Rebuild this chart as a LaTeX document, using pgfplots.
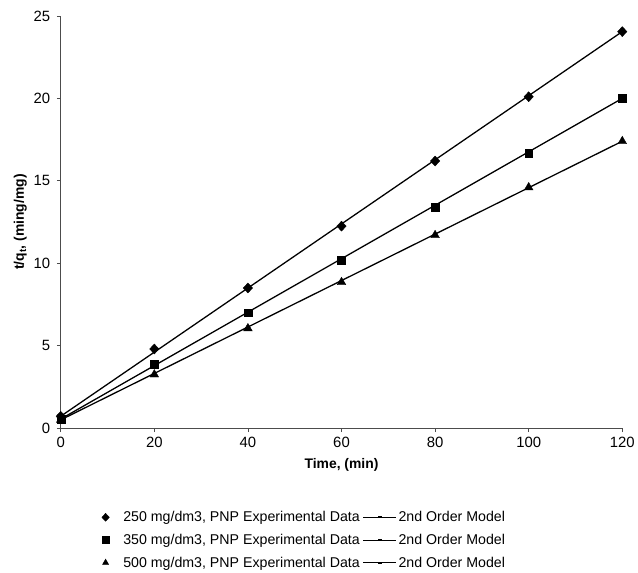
\documentclass[border=0pt]{standalone}
\usepackage{fontspec}
\setmainfont{Liberation Sans}
\usepackage{pgfplots}
\pgfplotsset{compat=1.18}
\pgfplotsset{modelleg/.style={legend image code/.code={%
  \draw[black, line width=1pt] (0bp,0bp) -- (33bp,0bp);
  \draw[black, line width=2pt] (15bp,0bp) -- (19bp,0bp);}},
  dataleg/.style={legend image post style={mark size=3.6bp}}}

\begin{document}
\begin{tikzpicture}[x=1bp,y=1bp]
\begin{axis}[
  scale only axis,
  width=564bp, height=414bp,
  xmin=0, xmax=120, ymin=0, ymax=25,
  xtick={0,20,...,120}, ytick={0,5,...,25},
  axis lines=left,
  axis line style={-, black!70, line width=0.8pt},
  tick style={black!70, line width=0.8pt},
  tick align=outside, major tick length=4bp,
  /pgf/number format/assume math mode=true,
  ticklabel style={font=\fontsize{15}{17}\selectfont},
  xticklabel style={yshift=-2bp},
  yticklabel style={xshift=-3bp},
  xlabel={\textbf{Time, (min)}},
  ylabel={\textbf{t/q\textsubscript{t}, (ming/mg)}},
  label style={font=\fontsize{14}{16}\selectfont},
  xlabel style={yshift=-3bp},
  legend columns=2,
  legend style={draw=none, at={(0.434,-0.192)}, anchor=north,
    font=\fontsize{14.3}{16}\selectfont, row sep=7bp,
    /tikz/every odd column/.append style={column sep=0bp},
    /tikz/every even column/.append style={column sep=1bp},
    legend cell align=left},
]
% 250 mg/dm3
\addplot[only marks, mark=diamond*, mark size=5bp, mark options={xscale=1.25}, black,
  legend image post style={mark size=4bp}] coordinates {
  (0,0.72) (20,4.8) (40,8.5) (60,12.25) (80,16.2) (100,20.1) (120,24.05)};
\addlegendentry{\hspace{12bp}250 mg/dm3, PNP Experimental Data}
\addplot[black, line width=1.3pt, no marks, modelleg]
  coordinates {(0,0.72) (120,24.05)};
\addlegendentry{2nd Order Model}
% 350 mg/dm3
\addplot[only marks, mark=square*, mark size=4bp, black, dataleg] coordinates {
  (0,0.55) (20,3.85) (40,7.0) (60,10.2) (80,13.4) (100,16.65) (120,20.0)};
\addlegendentry{\hspace{12bp}350 mg/dm3, PNP Experimental Data}
\addplot[black, line width=1.3pt, no marks, modelleg]
  coordinates {(0,0.55) (120,20.0)};
\addlegendentry{2nd Order Model}
% 500 mg/dm3
\addplot[only marks, mark=triangle*, mark size=5bp, black, dataleg] coordinates {
  (0,0.5) (20,3.25) (40,6.05) (60,8.85) (80,11.7) (100,14.6) (120,17.4)};
\addlegendentry{\hspace{12bp}500 mg/dm3, PNP Experimental Data}
\addplot[black, line width=1.3pt, no marks, modelleg]
  coordinates {(0,0.5) (120,17.4)};
\addlegendentry{2nd Order Model}
\coordinate (tl) at (rel axis cs:0,1);
\coordinate (br) at (rel axis cs:1,0);
\end{axis}
\path ([xshift=-61bp,yshift=16bp]tl) rectangle ([xshift=13bp,yshift=-141bp]br);
\end{tikzpicture}
\end{document}
